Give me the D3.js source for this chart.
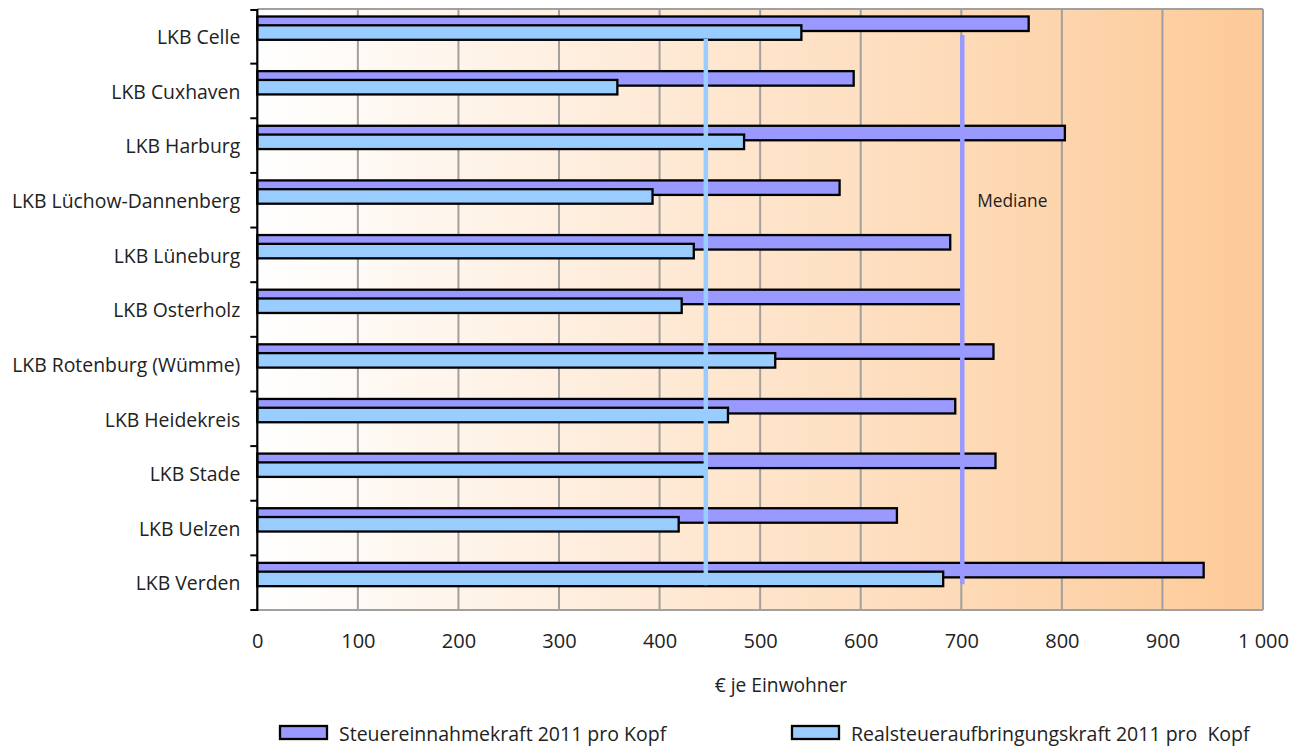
<!DOCTYPE html>
<html>
<head>
<meta charset="utf-8">
<script src="https://cdn.jsdelivr.net/npm/d3@7"></script>
<style>
  body { margin: 0; background: #fff; }
  svg text { font-family: "Open Sans", sans-serif; fill: #222; }
</style>
</head>
<body>
<svg id="chart" width="1301" height="747"></svg>
<script>
const kreise = ['LKB Celle', 'LKB Cuxhaven', 'LKB Harburg', 'LKB Lüchow-Dannenberg', 'LKB Lüneburg',
  'LKB Osterholz', 'LKB Rotenburg (Wümme)', 'LKB Heidekreis', 'LKB Stade', 'LKB Uelzen', 'LKB Verden']
const steuereinnahmekraft = [767, 593, 803, 579, 689, 701, 732, 694, 734, 636, 941]
const realsteuerkraft = [541, 358, 484, 393, 434, 422, 515, 468, 446, 419, 682]
const xTicks = [0, 100, 200, 300, 400, 500, 600, 700, 800, 900, 1000]
const serienNamen = ['Steuereinnahmekraft 2011 pro Kopf', 'Realsteueraufbringungskraft 2011 pro  Kopf']
const farben = ['#9999ff', '#99ccff']

window.addEventListener('load', () => {
  const svg = d3.select('#chart')
  const left = 257.3, right = 1263, top = 9, bottom = 610

  const x = d3.scaleLinear().domain([0, 1000]).range([left, right])
  const y = d3.scaleBand().domain(kreise).range([top, bottom])
  const bw = y.bandwidth()

  // background gradient
  const grad = svg.append('defs').append('linearGradient')
    .attr('id', 'bg').attr('x1', 0).attr('x2', 1).attr('y1', 0).attr('y2', 0)
  grad.append('stop').attr('offset', 0).attr('stop-color', '#ffffff')
  grad.append('stop').attr('offset', 1).attr('stop-color', '#fdca98')

  svg.append('rect')
    .attr('x', left).attr('y', top)
    .attr('width', right - left).attr('height', bottom - top)
    .attr('fill', 'url(#bg)')

  // gridlines
  svg.append('g')
    .selectAll('line')
    .data(xTicks.slice(1))
    .enter()
    .append('line')
    .attr('x1', (d) => x(d)).attr('x2', (d) => x(d))
    .attr('y1', top).attr('y2', bottom)
    .attr('stroke', '#a0a0a0').attr('stroke-width', 2)

  svg.append('line')
    .attr('x1', left).attr('x2', right).attr('y1', top).attr('y2', top)
    .attr('stroke', '#a0a0a0').attr('stroke-width', 2)
  svg.append('line')
    .attr('x1', left).attr('x2', right).attr('y1', bottom).attr('y2', bottom)
    .attr('stroke', '#a0a0a0').attr('stroke-width', 2)

  // bars: purple behind, blue in front
  const barH = 14.5
  const serien = [steuereinnahmekraft, realsteuerkraft]
  const offsets = [7.5, 16.3]
  serien.forEach((werte, s) => {
    svg.append('g')
      .selectAll('rect')
      .data(werte)
      .enter()
      .append('rect')
      .attr('x', x(0))
      .attr('y', (d, i) => y(kreise[i]) + offsets[s])
      .attr('width', (d) => x(d) - x(0))
      .attr('height', barH)
      .attr('fill', farben[s])
      .attr('stroke', '#000')
      .attr('stroke-width', 2.3)
  })

  // median lines
  const medianen = [d3.median(steuereinnahmekraft), d3.median(realsteuerkraft)]
  const yFirst = y(kreise[0]), yLast = y(kreise[kreise.length - 1])
  const medStart = [26, 30], medEnd = [29, 30]
  medianen.forEach((m, s) => {
    svg.append('line')
      .attr('x1', x(m)).attr('x2', x(m))
      .attr('y1', yFirst + medStart[s]).attr('y2', yLast + medEnd[s])
      .attr('stroke', farben[s]).attr('stroke-width', 4.5)
  })

  svg.append('text')
    .attr('x', x(medianen[0]) + 15).attr('y', 207)
    .style('font-size', '17.3px')
    .text('Mediane')

  // left axis
  const yAxis = svg.append('g')
    .attr('transform', `translate(${left},1)`)
    .call(d3.axisLeft(y).tickSize(0).tickPadding(17))
  yAxis.select('.domain').remove()
  yAxis.selectAll('text')
    .style('font-size', '19.4px')
    .attr('dy', '0.35em')
    .attr('fill', '#222')

  svg.append('g')
    .selectAll('line')
    .data(d3.range(kreise.length + 1))
    .enter()
    .append('line')
    .attr('x1', left - 7).attr('x2', left)
    .attr('y1', (i) => top + i * bw + (i === 0 ? 1 : 0))
    .attr('y2', (i) => top + i * bw + (i === 0 ? 1 : 0))
    .attr('stroke', '#000').attr('stroke-width', 2)

  svg.append('line')
    .attr('x1', left).attr('x2', left)
    .attr('y1', top).attr('y2', bottom + 1)
    .attr('stroke', '#000').attr('stroke-width', 2.2)

  // bottom axis labels
  const xAxis = svg.append('g')
    .attr('transform', `translate(0,${bottom})`)
    .call(d3.axisBottom(x).tickValues(xTicks).tickSize(0).tickPadding(24)
      .tickFormat((d) => d3.format(',')(d).replace(',', ' ')))
  xAxis.select('.domain').remove()
  xAxis.selectAll('text')
    .style('font-size', '20px')
    .attr('fill', '#222')

  svg.append('text')
    .attr('x', 781).attr('y', 692)
    .attr('text-anchor', 'middle')
    .style('font-size', '19.2px')
    .text('€ je Einwohner')

  // legend
  const legX = [280, 792]
  const legend = svg.append('g')
    .selectAll('g')
    .data(serienNamen)
    .enter()
    .append('g')
    .attr('transform', (d, i) => `translate(${legX[i]},726)`)
  legend.append('rect')
    .attr('width', 47).attr('height', 13)
    .attr('fill', (d, i) => farben[i])
    .attr('stroke', '#000').attr('stroke-width', 2.3)
  legend.append('text')
    .attr('x', 59).attr('y', 15)
    .style('font-size', '19.5px')
    .style('white-space', 'pre')
    .attr('xml:space', 'preserve')
    .text((d) => d)
})
</script>
</body>
</html>
